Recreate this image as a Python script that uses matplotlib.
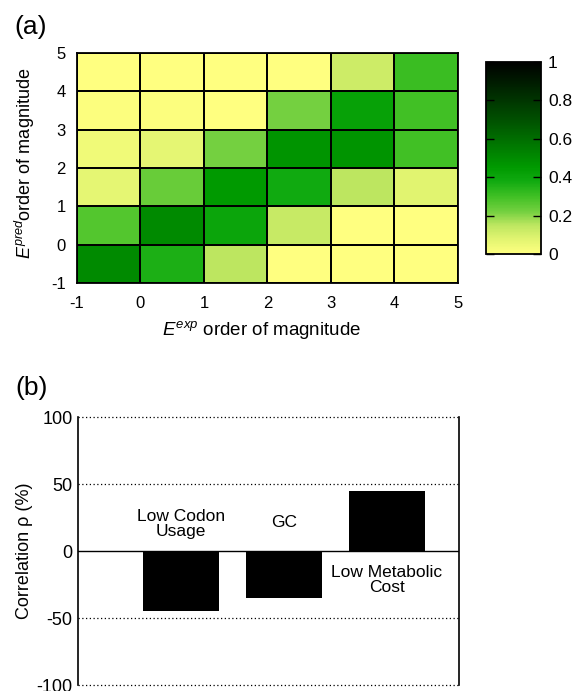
import matplotlib
matplotlib.use('Agg')
import matplotlib.pyplot as plt
import numpy as np
from matplotlib.colors import LinearSegmentedColormap

plt.rcParams['font.family'] = ['Liberation Sans', 'DejaVu Sans']
plt.rcParams['mathtext.fontset'] = 'custom'
plt.rcParams['mathtext.rm'] = 'Liberation Sans'
plt.rcParams['mathtext.it'] = 'Liberation Sans:italic'
plt.rcParams['axes.unicode_minus'] = False

# panel (a): fraction of genes per (E_exp, E_pred) bin, rows = E_pred from -1 upwards
bin_edges = [-1, 0, 1, 2, 3, 4, 5]
heat_values = [
    [0.50, 0.36, 0.15, 0.00, 0.00, 0.00],   # E_pred -1..0
    [0.27, 0.50, 0.40, 0.13, 0.00, 0.00],   # 0..1
    [0.07, 0.24, 0.45, 0.38, 0.15, 0.08],   # 1..2
    [0.04, 0.07, 0.22, 0.47, 0.47, 0.30],   # 2..3
    [0.01, 0.01, 0.00, 0.22, 0.42, 0.30],   # 3..4
    [0.00, 0.00, 0.00, 0.00, 0.12, 0.31],   # 4..5
]
cbar_ticks = [0, 0.2, 0.4, 0.6, 0.8, 1]

# panel (b)
features = ['Low Codon\nUsage', 'GC', 'Low Metabolic\nCost']
correlations = [-45, -35, 44.5]
label_y = [20, 21, -22]
bar_ticks = [-100, -50, 0, 50, 100]

cmap = LinearSegmentedColormap.from_list('ygk', [
    (0.00, '#ffff80'), (0.08, '#e0f470'), (0.15, '#bce660'),
    (0.22, '#74d040'), (0.30, '#40c024'), (0.38, '#10aa10'),
    (0.45, '#009a00'), (0.55, '#007c00'), (0.70, '#005000'),
    (0.85, '#002800'), (1.00, '#000000')])

fig = plt.figure(figsize=(5.81, 6.91), dpi=100)

# ---- (a) heatmap
ax1 = fig.add_axes([0.1325, 0.5904, 0.6558, 0.3329])
mesh = ax1.pcolormesh(bin_edges, bin_edges, np.array(heat_values), cmap=cmap,
                      vmin=0, vmax=1, edgecolor='black', linewidth=1.3)
ax1.set_xlim(-1, 5)
ax1.set_ylim(-1, 5)
ax1.set_xticks(bin_edges)
ax1.set_yticks(bin_edges)
ax1.tick_params(length=0, labelsize=12)
ax1.tick_params(axis='x', pad=9)
ax1.tick_params(axis='y', pad=8)
for s in ax1.spines.values():
    s.set_linewidth(1.3)
ax1.set_xlabel(r'$E^{exp}$ order of magnitude', fontsize=13.5)
ax1.xaxis.set_label_coords(0.485, -0.155)
ax1.set_ylabel(r'$E^{pred}$order of magnitude', fontsize=13)
ax1.yaxis.set_label_coords(-0.105, 0.52)

cax = fig.add_axes([0.8365, 0.6324, 0.0947, 0.2779])
cb = fig.colorbar(mesh, cax=cax, ticks=cbar_ticks)
cb.ax.set_yticklabels(['0', '0.2', '0.4', '0.6', '0.8', '1'])
cb.outline.set_linewidth(1.3)
cax.tick_params(axis='y', which='both', direction='in', length=6, width=1,
                left=True, right=True, labelsize=12.5, pad=5)

fig.text(0.024, 1 - 27 / 691, '(a)', fontsize=19, va='center', ha='left')

# ---- (b) bars
ax2 = fig.add_axes([0.1343, 0.00868, 0.6558, 0.3878])
xpos = np.arange(1, len(features) + 1)
ax2.bar(xpos, correlations, width=0.73, color='black', zorder=3)
for x, lab, ly in zip(xpos, features, label_y):
    ax2.text(x, ly, lab, ha='center', va='center', fontsize=12.5, linespacing=1.0)
ax2.set_xlim(0, 3.7)
ax2.set_ylim(-100, 100)
ax2.set_yticks(bar_ticks)
ax2.set_xticks([])
for yv in bar_ticks:
    if yv == 0:
        ax2.axhline(yv, color='black', lw=1.0, zorder=4)
    else:
        ax2.axhline(yv, color='black', lw=0.9, ls=(0, (1, 2)), zorder=1,
                    clip_on=False)
ax2.spines['top'].set_visible(False)
ax2.spines['bottom'].set_visible(False)
ax2.spines['left'].set_linewidth(1.2)
ax2.spines['right'].set_linewidth(1.2)
ax2.tick_params(axis='y', length=0, labelsize=13, pad=4)
ax2.set_ylabel('Correlation ρ (%)', fontsize=13)
ax2.yaxis.set_label_coords(-0.118, 0.5)

fig.text(0.026, 1 - 388 / 691, '(b)', fontsize=19, va='center', ha='left')

fig.savefig('out.png', dpi=100)
